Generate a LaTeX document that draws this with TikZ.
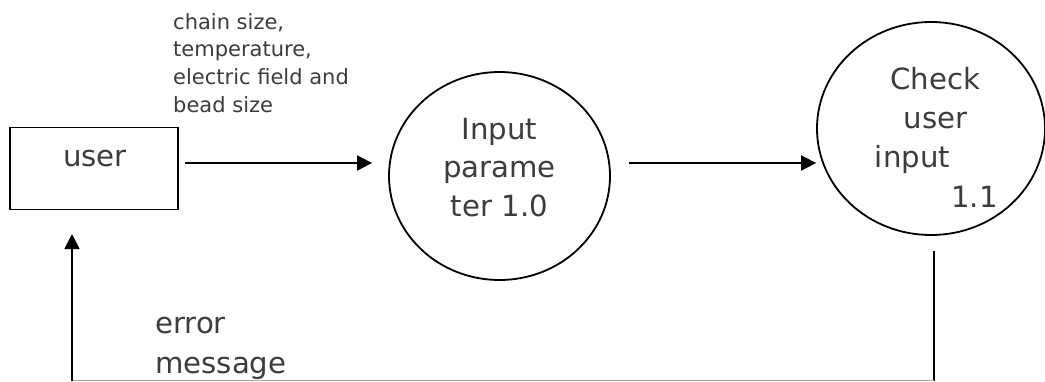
\documentclass[tikz,border=0pt]{standalone}
\usepackage{fontspec}
\setmainfont{DejaVu Sans}
\usetikzlibrary{shapes.geometric,arrows.meta}
\definecolor{txt}{HTML}{3C3C3C}
\definecolor{lightline}{HTML}{A8A8A8}
\begin{document}
\begin{tikzpicture}[x=1pt,y=-1pt,
  box/.style={draw,line width=1.8pt,minimum width=168pt,minimum height=82pt,inner sep=0},
  proc/.style={draw,ellipse,line width=1.8pt,inner sep=0},
  big/.style={text=txt,font=\fontsize{29.2}{38.5}\selectfont,inner sep=0,align=center},
  small/.style={text=txt,font=\fontsize{21}{27.8}\selectfont,inner sep=0,align=left},
  flow/.style={line width=1.8pt,-{Triangle[length=15pt,width=15pt]}},
  wire/.style={line width=1.8pt},
]
\useasboundingbox (0,0) rectangle (1045,381);
% entity
\node[box] (user) at (94,168.5) {};
\node[big,anchor=base] (usertext) at (95,166) {user};
% processes
\node[proc,minimum width=221pt,minimum height=208pt] (p1) at (499.5,176) {};
\node[big,anchor=north] (p1text) at (499.5,117.7) {Input\\parame\\ter 1.0};
\node[proc,minimum width=228pt,minimum height=213pt] (p2) at (931,128.5) {};
\node[big,anchor=north,font=\fontsize{29.2}{39.3}\selectfont] (p2text) at (935.5,66.8)
  {Check\\user\\input\rule{46pt}{0pt}\\\rule{78pt}{0pt}1.1};
% labels
\node[small,anchor=north west] (lbl1) at (173,13)
  {chain size,\\temperature,\\electric field and\\bead size};
\node[big,align=left,anchor=north west,font=\fontsize{29.2}{40}\selectfont] (lbl2) at (155,316.6)
  {error\\message};
% connectors
\path (user.east) ++(6,-5.5) coordinate (a1s);
\draw[flow,shorten >=16pt] (a1s) -- (a1s -| p1.west);
\path (p1.east) ++(18,0) coordinate (a2s);
\path (p2.west) ++(0,34.5) coordinate (a2e);
\draw[flow] (a2s |- a1s) -- (a2e |- a1s);
\path (p2.south) ++(3,15) coordinate (d1);
\coordinate (d2) at (d1 |- 0,381);
\coordinate (d3) at (72,380.5);
\coordinate (d4) at (72,234);
\draw[wire] (d1) -- (d2);
\draw[lightline,line width=1pt] (d1 |- d3) -- (d3);
\draw[flow] (d3 |- d2) -- (d4);
\end{tikzpicture}
\end{document}
